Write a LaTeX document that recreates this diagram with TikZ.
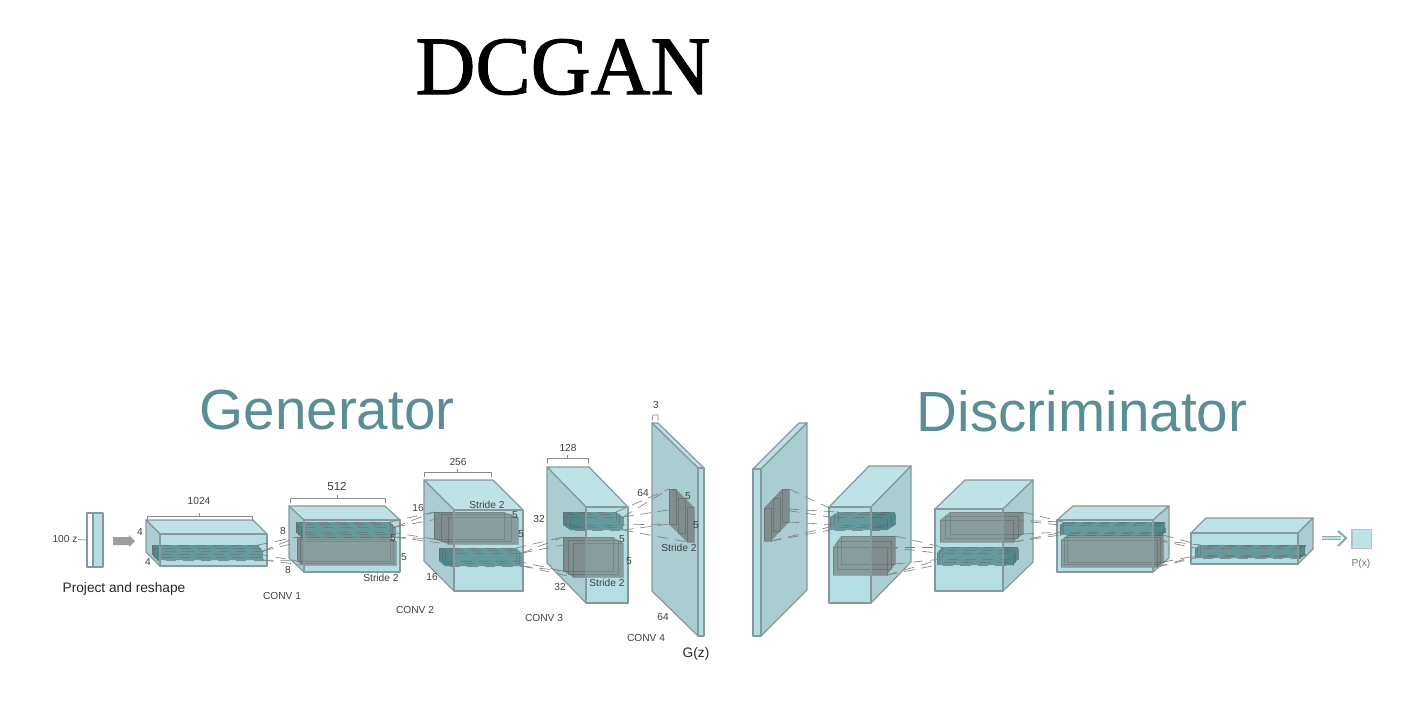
\documentclass[tikz,border=0pt]{standalone}
\usepackage{fontspec}
\setmainfont{Liberation Sans}
\newfontfamily\titlefont{Liberation Serif}[BoldFont=Liberation Serif, BoldFeatures={FakeBold=1.2}]
\usepackage{tikz}
\definecolor{topface}{HTML}{BEE3E7}
\definecolor{frontface}{HTML}{B5DEE2}
\definecolor{sideface}{HTML}{A9CDD1}
\definecolor{edgeline}{HTML}{86999C}
\definecolor{headteal}{HTML}{5A8E95}
\tikzset{
  face/.style={draw=edgeline, line width=0.35pt, line join=round},
  greybox/.style={draw=black!70, draw opacity=0.35, line width=0.25pt},
  greyfill/.style={fill=black!60, fill opacity=0.62},
  tealbox/.style={draw=black!60, draw opacity=0.7, densely dashed, line width=0.2pt},
  tealfill/.style={fill=black!45!teal, fill opacity=0.5},
  linkline/.style={draw=black!50, densely dashed, line width=0.18pt},
  tinytext/.style={font=\fontsize{2.9}{3.5}\selectfont, text=black!75, inner sep=0pt},
  midtext/.style={font=\fontsize{3.9}{4.5}\selectfont, text=black!85, inner sep=0pt},
  headtext/.style={font=\fontsize{16.1}{18}\selectfont, text=headteal, inner sep=0pt},
  markline/.style={draw=black!45, line width=0.2pt},
}
% x y w h dx dy : front face and the shift of the back face
\newcommand{\cuboid}[6]{
  \draw[face, fill=topface] (#1,#2) -- (#1+#3,#2) -- (#1+#3+#5,#2+#6) -- (#1+#5,#2+#6) -- cycle;
  \ifdim #5pt<0pt
    \draw[face, fill=sideface] (#1,#2) -- (#1,#2+#4) -- (#1+#5,#2+#4+#6) -- (#1+#5,#2+#6) -- cycle;
  \else
    \draw[face, fill=sideface] (#1+#3,#2) -- (#1+#3,#2+#4) -- (#1+#3+#5,#2+#4+#6) -- (#1+#3+#5,#2+#6) -- cycle;
  \fi
  \fill[frontface] (#1,#2) rectangle (#1+#3,#2+#4);
}
\newcommand{\frontedge}[4]{
  \draw[face, fill=frontface, fill opacity=0.12] (#1,#2) rectangle (#1+#3,#2+#4);
}
% name x y w h dx dy style
\newcommand{\innerbox}[8]{
  \coordinate (#1-tl) at (#2,#3);
  \coordinate (#1-tr) at (#2+#4,#3);
  \coordinate (#1-bl) at (#2,#3+#5);
  \coordinate (#1-br) at (#2+#4,#3+#5);
  \coordinate (#1-btl) at (#2+#6,#3+#7);
  \coordinate (#1-btr) at (#2+#4+#6,#3+#7);
  \coordinate (#1-bbl) at (#2+#6,#3+#5+#7);
  \coordinate (#1-bbr) at (#2+#4+#6,#3+#5+#7);
  \ifdim #6pt<0pt
    \fill[#8fill] (#1-btl) -- (#1-btr) -- (#1-tr) -- (#1-br) -- (#1-bl) -- (#1-bbl) -- cycle;
  \else
    \fill[#8fill] (#1-tl) -- (#1-btl) -- (#1-btr) -- (#1-bbr) -- (#1-br) -- (#1-bl) -- cycle;
  \fi
  \draw[#8box] (#1-btl) rectangle (#1-bbr);
  \draw[#8box] (#2+0.5*#6,#3+0.5*#7) rectangle (#2+#4+0.5*#6,#3+#5+0.5*#7);
  \draw[#8box] (#1-tl) rectangle (#1-br);
}
\newcommand{\linkset}[2]{
  \draw[linkline] (#1-btr) -- (#2-btl);
  \draw[linkline] (#1-tr) -- (#2-tl);
  \draw[linkline] (#1-tr) -- (#2-btl);
  \draw[linkline] (#1-br) -- (#2-bl);
  \draw[linkline] (#1-br) -- (#2-bbl);
  \draw[linkline] (#1-bbr) -- (#2-bbl);
}
\newcommand{\widthmark}[3]{
  \draw[markline] (#1,#3+5) -- (#1,#3) -- (#2,#3) -- (#2,#3+5);
  \draw[markline] ({(#1+#2)/2},#3) -- ({(#1+#2)/2},#3-3);
}
\begin{document}
\begin{tikzpicture}[x=0.01cm, y=-0.01cm]
\useasboundingbox (0,0) rectangle (1401,726);

\node[font=\titlefont\bfseries\fontsize{23.6}{26}\selectfont, inner sep=0pt] (title) at (563,67) {DCGAN};
\node[headtext] (generator) at (327,410) {Generator};
\node[headtext] (discriminator) at (1082,411) {Discriminator};

% generator
\node[tinytext] (zlabel) at (65,539) {100 z};
\draw[face, fill=white] (87,513) rectangle (93,567);
\draw[face, fill=frontface] (93,513) rectangle (103,567);
\coordinate (ztick) at (87,540);
\draw[markline] (zlabel) -- (ztick);
\coordinate (zfrom) at (113,541);
\coordinate (zto) at (135,541);
\fill[black!38] (zfrom) ++(0,-4) -- ++(16,0) -- ++(0,-2) -- (zto) -- ++(-6,6) -- ++(0,-2) -- ++(-16,0) -- cycle;
\node[midtext] (project) at (124,589) {Project and reshape};

\cuboid{160}{534}{107}{32}{-14}{-14}
\innerbox{gone}{157}{551}{106}{9}{-5}{-6}{teal}
\frontedge{160}{534}{107}{32}

\cuboid{304}{520}{96}{52}{-15}{-14}
\innerbox{gtwot}{301}{527}{94}{10}{-5}{-5}{teal}
\innerbox{gtwog}{303}{541}{93}{24}{-6}{-4}{grey}
\frontedge{304}{520}{96}{52}

\cuboid{454}{510}{69}{81}{-30}{-30}
\innerbox{gthreeg}{448}{517}{70}{27}{-14}{-5}{grey}
\innerbox{gthreet}{445}{553}{77}{13}{-6}{-5}{teal}
\frontedge{454}{510}{69}{81}

\cuboid{586}{507}{42}{96}{-39}{-40}
\innerbox{gfourt}{570}{517}{53}{13}{-7}{-5}{teal}
\innerbox{gfourg}{573}{543}{50}{34}{-10}{-6}{grey}
\frontedge{586}{507}{42}{96}

\cuboid{698}{468}{6}{168}{-46}{-45}
\innerbox{gfive}{687}{507}{7}{35}{-18}{-18}{grey}
\frontedge{698}{468}{6}{168}

\linkset{gone}{gtwog}
\linkset{gtwot}{gthreeg}
\linkset{gthreet}{gfourg}
\linkset{gfourt}{gfive}

\widthmark{147}{252}{516}
\widthmark{290}{385}{498}
\widthmark{424}{491}{472}
\widthmark{547}{588}{458}
\draw[markline] (652,421) -- (653,415) -- (658,415) -- (658,421);

\node[tinytext] (wone) at (199,501) {1024};
\node[tinytext] (hone) at (140,532) {4};
\node[tinytext] (done) at (148,562) {4};
\node[tinytext, font=\fontsize{3.3}{4}\selectfont] (wtwo) at (337,486) {512};
\node[tinytext] (htwo) at (283,531) {8};
\node[tinytext] (dtwo) at (288,570) {8};
\node[tinytext] (ktwoa) at (393,538) {5};
\node[tinytext] (ktwob) at (404,557) {5};
\node[tinytext] (stwo) at (381,578) {Stride 2};
\node[tinytext] (conone) at (282,596) {CONV 1};
\node[tinytext] (wthree) at (458,462) {256};
\node[tinytext] (hthree) at (418,508) {16};
\node[tinytext] (dthree) at (432,577) {16};
\node[tinytext] (sthree) at (487,505) {Stride 2};
\node[tinytext] (kthreea) at (515,515) {5};
\node[tinytext] (kthreeb) at (521,534) {5};
\node[tinytext] (contwo) at (415,610) {CONV 2};
\node[tinytext] (wfour) at (568,448) {128};
\node[tinytext] (hfour) at (539,519) {32};
\node[tinytext] (dfour) at (560,587) {32};
\node[tinytext] (kfoura) at (622,539) {5};
\node[tinytext] (kfourb) at (629,561) {5};
\node[tinytext] (sfour) at (607,583) {Stride 2};
\node[tinytext] (conthree) at (544,618) {CONV 3};
\node[tinytext] (wfive) at (656,405) {3};
\node[tinytext] (hfive) at (643,493) {64};
\node[tinytext] (dfive) at (663,617) {64};
\node[tinytext] (kfivea) at (688,496) {5};
\node[tinytext] (kfiveb) at (696,525) {5};
\node[tinytext] (sfive) at (679,548) {Stride 2};
\node[tinytext] (confour) at (646,638) {CONV 4};
\node[midtext] (gz) at (696,654) {G(z)};

% discriminator
\cuboid{753}{469}{8}{167}{46}{-46}
\innerbox{dzero}{764}{508}{7}{33}{18}{-19}{grey}
\frontedge{753}{469}{8}{167}

\cuboid{829}{507}{42}{96}{40}{-41}
\innerbox{donet}{830}{517}{57}{13}{8}{-5}{teal}
\innerbox{doneg}{833}{547}{54}{28}{8}{-11}{grey}
\frontedge{829}{507}{42}{96}

\cuboid{935}{509}{68}{82}{30}{-29}
\innerbox{dtwog}{940}{520}{73}{22}{10}{-8}{grey}
\innerbox{dtwot}{937}{553}{76}{12}{5}{-6}{teal}
\frontedge{935}{509}{68}{82}

\cuboid{1057}{520}{96}{52}{16}{-14}
\innerbox{dthreet}{1060}{525}{102}{10}{3}{-3}{teal}
\innerbox{dthreeg}{1061}{540}{96}{27}{6}{-5}{grey}
\frontedge{1057}{520}{96}{52}

\cuboid{1191}{533}{107}{31}{15}{-15}
\innerbox{dfourt}{1195}{548}{105}{10}{5}{-3}{teal}
\frontedge{1191}{533}{107}{31}

\linkset{dzero}{donet}
\linkset{doneg}{dtwot}
\linkset{dtwog}{dthreet}
\linkset{dthreeg}{dfourt}

\node[draw=edgeline!60, line width=0.3pt, fill=topface, minimum size=0.19cm, inner sep=0pt] (pbox) at (1361.5,539) {};
\node[tinytext, text=black!55] (plabel) at (1361,564) {P(x)};
\coordinate (pfrom) at (1322,538);
\coordinate (pto) at (1346,538);
\draw[topface!75!black, double=topface, double distance=0.5pt, line width=0.3pt] (pfrom) -- ([xshift=-0.05cm]pto);
\draw[topface!75!black, line width=0.6pt] (1338,531) -- (pto) -- (1338,546);
\end{tikzpicture}
\end{document}
